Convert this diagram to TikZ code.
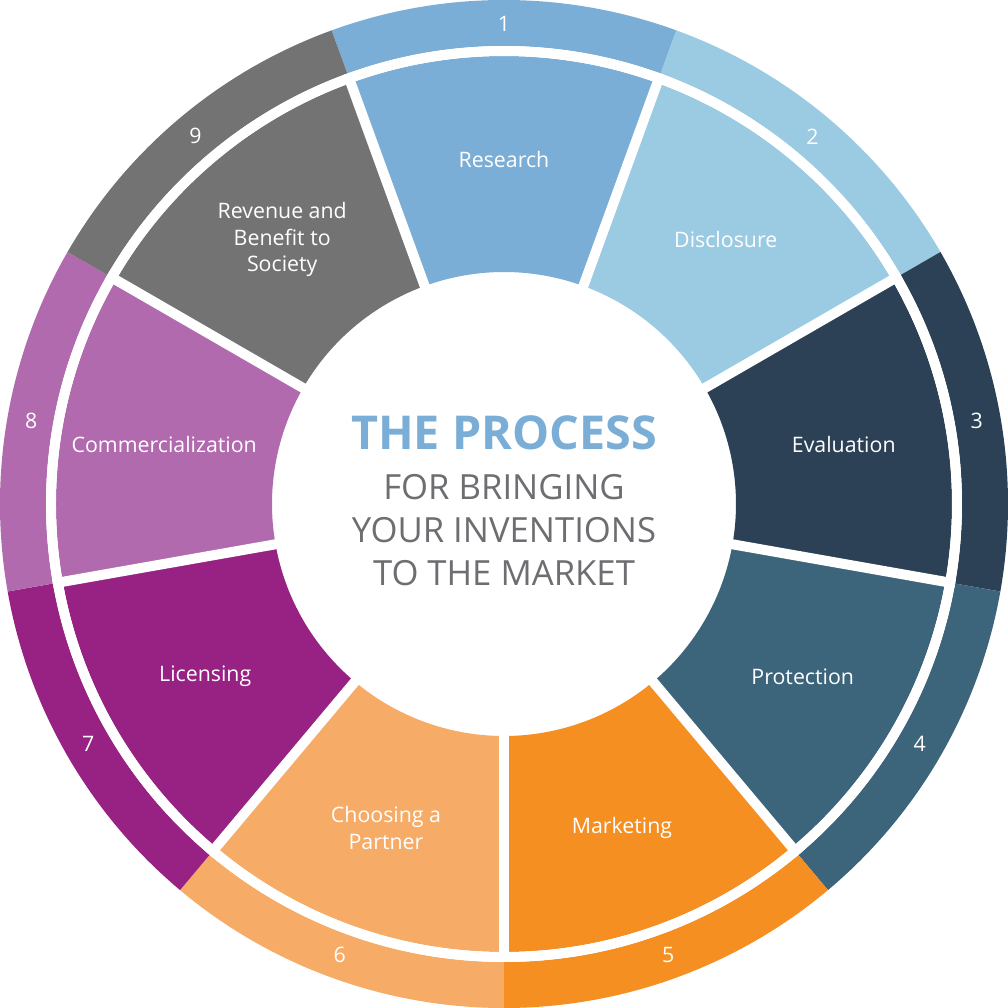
\documentclass[tikz,border=0pt]{standalone}
\usepackage{fontspec}
\setmainfont{Open Sans}
\usepackage{xcolor}
\definecolor{StepOne}{HTML}{7BAED6}
\definecolor{StepTwo}{HTML}{9ACBE3}
\definecolor{StepThree}{HTML}{2C4155}
\definecolor{StepFour}{HTML}{3C657B}
\definecolor{StepFive}{HTML}{F58F22}
\definecolor{StepSix}{HTML}{F6AB67}
\definecolor{StepSeven}{HTML}{972283}
\definecolor{StepEight}{HTML}{B06AAD}
\definecolor{StepNine}{HTML}{737373}
\definecolor{TitleBlue}{HTML}{7BAED6}
\definecolor{TitleGrey}{HTML}{6D6E71}

\begin{document}
\begin{tikzpicture}[x=0.75pt, y=0.75pt,
    step label/.style={text=white, align=center, font=\fontsize{16}{20}\selectfont},
    step number/.style={text=white, font=\fontsize{16}{20}\selectfont}]

\useasboundingbox (-504, -504) rectangle (504, 504);
\coordinate (O) at (0, 0);

\foreach \i/\col/\txt in {1/StepOne/Research, 2/StepTwo/Disclosure,
    3/StepThree/Evaluation, 4/StepFour/Protection, 5/StepFive/Marketing,
    6/StepSix/{Choosing a\\Partner}, 7/StepSeven/Licensing,
    8/StepEight/Commercialization, 9/StepNine/{Revenue and\\Benefit to\\Society}}
{
    \pgfmathsetmacro{\mid}{90 - 40*(\i - 1)}
    \pgfmathsetmacro{\lo}{\mid - 20}
    \pgfmathsetmacro{\hi}{\mid + 20}
    % outer band
    \fill[\col] (\hi:458) arc[start angle=\hi, end angle=\lo, radius=458]
        -- (\lo:504) arc[start angle=\lo, end angle=\hi, radius=504] -- cycle;
    % inner segment
    \fill[\col] (\hi:232) arc[start angle=\hi, end angle=\lo, radius=232]
        -- (\lo:448) arc[start angle=\lo, end angle=\hi, radius=448] -- cycle;
    \node[step label] (step\i) at (\mid:345) {\txt};
    \node[step number] (num\i) at (\mid:480) {\i};
}

% white gaps
\foreach \i in {1,...,9}
    \draw[white, line width=7.5pt] (O) -- (90 - 40*\i + 20:458);
\draw[white, line width=7.5pt] (O) circle[radius=453];
\fill[white] (O) circle[radius=226];

\node[text=TitleBlue, font=\fontsize{35}{40}\selectfont\bfseries] (title) at (0, 71) {THE PROCESS};
\node[text=TitleGrey, align=center, font=\fontsize{26}{32.3}\selectfont, anchor=north] (subtitle) at (0, 34)
    {FOR BRINGING\\YOUR INVENTIONS\\TO THE MARKET};

\end{tikzpicture}
\end{document}
